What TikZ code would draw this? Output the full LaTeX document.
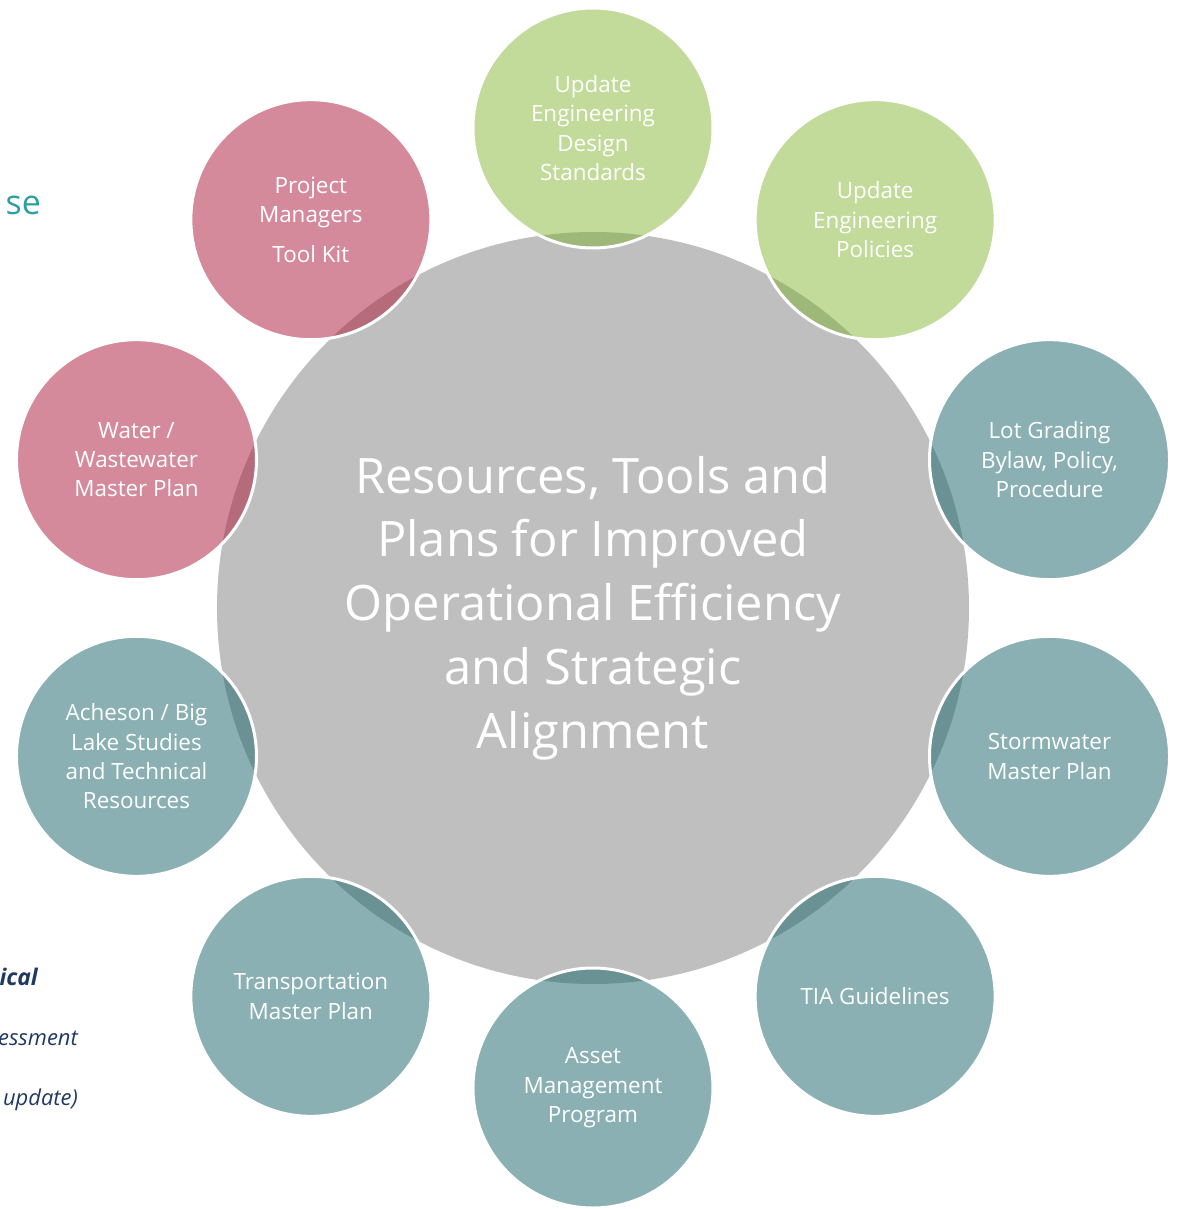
\documentclass[tikz,border=0pt]{standalone}
\usepackage{fontspec}
\setmainfont{Open Sans}
\definecolor{hubgrey}{HTML}{BFBFBF}
\definecolor{cgreen}{HTML}{C2DB9A}
\definecolor{lgreen}{HTML}{9DB879}
\definecolor{cpink}{HTML}{D48A9B}
\definecolor{lpink}{HTML}{B66B7B}
\definecolor{cteal}{HTML}{8AB0B3}
\definecolor{lteal}{HTML}{6A9193}
\definecolor{navy}{HTML}{1F3864}
\definecolor{tealtext}{HTML}{2BA0A0}
\tikzset{
  hubnode/.style={circle, fill=hubgrey, minimum size=752bp, inner sep=0pt, text=white,
    align=center, font=\fontsize{49}{64}\selectfont},
  outernode/.style={circle, draw=white, line width=3bp, minimum size=240bp, inner sep=0pt,
    text=white, align=center, font=\fontsize{22.5}{29.5}\selectfont},
  sidetext/.style={anchor=east, inner sep=0pt, text=navy, font=\fontsize{22}{24}\selectfont\itshape},
}
\newcommand{\petal}[5]{%
  % #1 name, #2 angle, #3 fill, #4 lens colour, #5 text
  \path[fill=#3] (#2:480) circle (120);
  \begin{scope}
    \clip (#2:480) circle (120);
    \fill[#4] (hub.center) circle (376);
  \end{scope}
  \node[outernode] (#1) at (#2:480) {#5};
}
\begin{document}
\begin{tikzpicture}[x=1bp,y=1bp]
\useasboundingbox (-593,-601) rectangle (586,608);
\node[hubnode] (hub) at (0,0) {Resources, Tools and\\Plans for Improved\\Operational Efficiency\\and Strategic\\Alignment};
\petal{p1}{90}{cgreen}{lgreen}{Update\\Engineering\\Design\\Standards}
\petal{p2}{54}{cgreen}{lgreen}{Update\\Engineering\\Policies}
\petal{p3}{18}{cteal}{lteal}{Lot Grading\\Bylaw, Policy,\\Procedure}
\petal{p4}{-18}{cteal}{lteal}{Stormwater\\Master Plan}
\petal{p5}{-54}{cteal}{lteal}{TIA Guidelines}
\petal{p6}{-90}{cteal}{lteal}{Asset\\Management\\Program}
\petal{p7}{-126}{cteal}{lteal}{Transportation\\Master Plan}
\petal{p8}{-162}{cteal}{lteal}{Acheson / Big\\Lake Studies\\and Technical\\Resources}
\petal{p9}{162}{cpink}{lpink}{Water /\\Wastewater\\Master Plan}
\petal{p10}{126}{cpink}{lpink}{Project\\Managers\\[10bp]Tool Kit}
\node[anchor=east, inner sep=0pt, text=tealtext, font=\fontsize{34}{40}\selectfont] (s1) at (-552,403) {se};
\node[sidetext, font=\fontsize{23}{26}\selectfont\bfseries\itshape] (s2) at (-555,-369) {ical};
\node[sidetext] (s3) at (-515,-430) {essment};
\node[sidetext] (s4) at (-515,-492) {update)};
\end{tikzpicture}
\end{document}
